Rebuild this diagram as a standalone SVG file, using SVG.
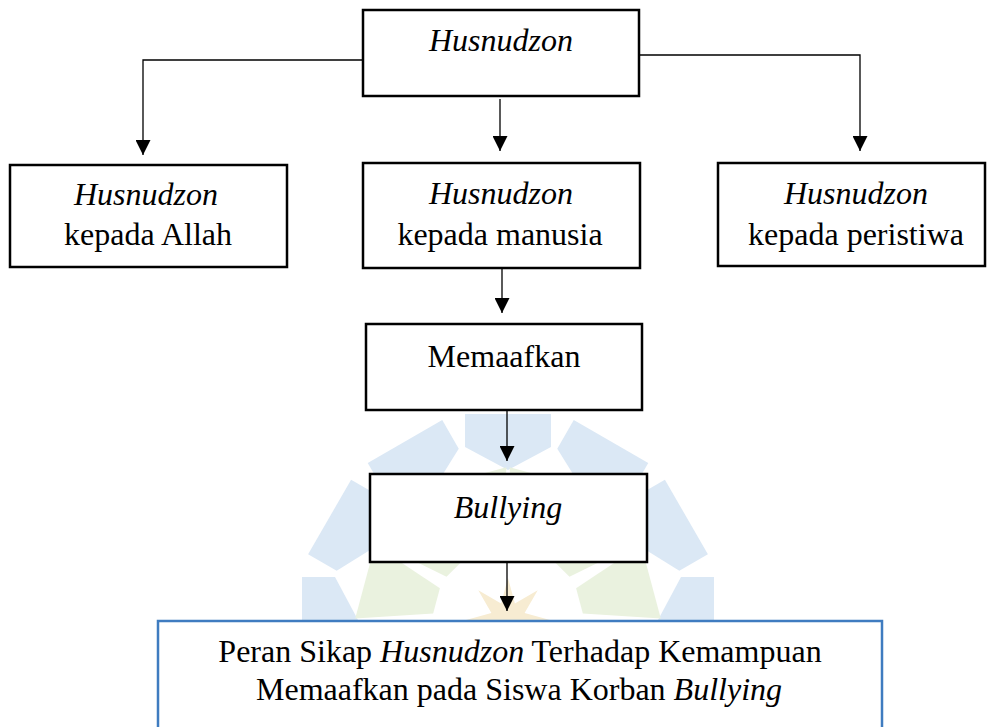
<svg xmlns="http://www.w3.org/2000/svg" xmlns:xlink="http://www.w3.org/1999/xlink" width="988" height="727" viewBox="0 0 988 727">
<style>
.box{fill:#fff;stroke:#000;stroke-width:2.5}
.bluebox{fill:#fff;stroke:#3f7cc0;stroke-width:2.5}
.t{font-family:"Liberation Serif","Times New Roman",serif;font-size:32px;fill:#000;text-anchor:middle}
.i{font-style:italic}
.con{fill:none;stroke:#000;stroke-width:1.3}
.wb{fill:#dbe8f5}
.wg{fill:#eaf2df}
.wy{fill:#f7ecd2}
</style>
<defs>
<marker id="arr" markerUnits="userSpaceOnUse" markerWidth="15" markerHeight="15" refX="15" refY="7.5" orient="auto" viewBox="0 0 15 15">
<path d="M0,0 L15,7.5 L0,15 Z" fill="#000"/>
</marker>
<polygon id="bp" points="-43,-206 43,-206 43,-173 0,-150 -43,-173"/>
<polygon id="gp" points="-13,-74 13,-74 38,-148 -38,-148"/>
</defs>
<rect width="988" height="727" fill="#fff"/>
<g id="watermark" transform="translate(508,620)">
<g class="wb">
<use xlink:href="#bp"/>
<use xlink:href="#bp" transform="rotate(30)"/>
<use xlink:href="#bp" transform="rotate(60)"/>
<use xlink:href="#bp" transform="rotate(90)"/>
<use xlink:href="#bp" transform="rotate(-30)"/>
<use xlink:href="#bp" transform="rotate(-60)"/>
<use xlink:href="#bp" transform="rotate(-90)"/>
</g>
<g class="wg">
<use xlink:href="#gp" transform="rotate(15)"/>
<use xlink:href="#gp" transform="rotate(45)"/>
<use xlink:href="#gp" transform="rotate(75)"/>
<use xlink:href="#gp" transform="rotate(-15)"/>
<use xlink:href="#gp" transform="rotate(-45)"/>
<use xlink:href="#gp" transform="rotate(-75)"/>
</g>
<polygon class="wy" points="0,-42 6.9,-16.6 29.7,-29.7 16.6,-6.9 42,0 16.6,6.9 29.7,29.7 6.9,16.6 0,42 -6.9,16.6 -29.7,29.7 -16.6,6.9 -42,0 -16.6,-6.9 -29.7,-29.7 -6.9,-16.6"/>
</g>
<g id="connectors">
<path class="con" d="M363,60 H143 V155" marker-end="url(#arr)"/>
<path class="con" d="M500,99 V151" marker-end="url(#arr)"/>
<path class="con" d="M639,55 H860 V151" marker-end="url(#arr)"/>
<path class="con" d="M502,268 V313" marker-end="url(#arr)"/>
<path class="con" d="M507,410 V461" marker-end="url(#arr)"/>
<path class="con" d="M507,563 V611" marker-end="url(#arr)"/>
</g>
<g id="node-top">
<rect class="box" x="363" y="10" width="276" height="86"/>
<text class="t i" x="501" y="51">Husnudzon</text>
</g>
<g id="node-allah">
<rect class="box" x="10" y="165" width="277" height="102"/>
<text class="t i" x="146" y="205">Husnudzon</text>
<text class="t" x="148" y="245">kepada Allah</text>
</g>
<g id="node-manusia">
<rect class="box" x="363" y="163" width="277" height="105"/>
<text class="t i" x="501" y="204">Husnudzon</text>
<text class="t" x="500" y="245">kepada manusia</text>
</g>
<g id="node-peristiwa">
<rect class="box" x="718" y="163" width="267" height="103"/>
<text class="t i" x="856" y="204">Husnudzon</text>
<text class="t" x="856" y="245">kepada peristiwa</text>
</g>
<g id="node-memaafkan">
<rect class="box" x="366" y="324" width="276" height="86"/>
<text class="t" x="504" y="367">Memaafkan</text>
</g>
<g id="node-bullying">
<rect class="box" x="370" y="474" width="277" height="88"/>
<text class="t i" x="508" y="518">Bullying</text>
</g>
<g id="node-peran">
<rect class="bluebox" x="158" y="621" width="724" height="130"/>
<text class="t" x="520" y="662">Peran Sikap <tspan class="i">Husnudzon</tspan> Terhadap Kemampuan</text>
<text class="t" x="519" y="700">Memaafkan pada Siswa Korban <tspan class="i">Bullying</tspan></text>
</g>
</svg>
